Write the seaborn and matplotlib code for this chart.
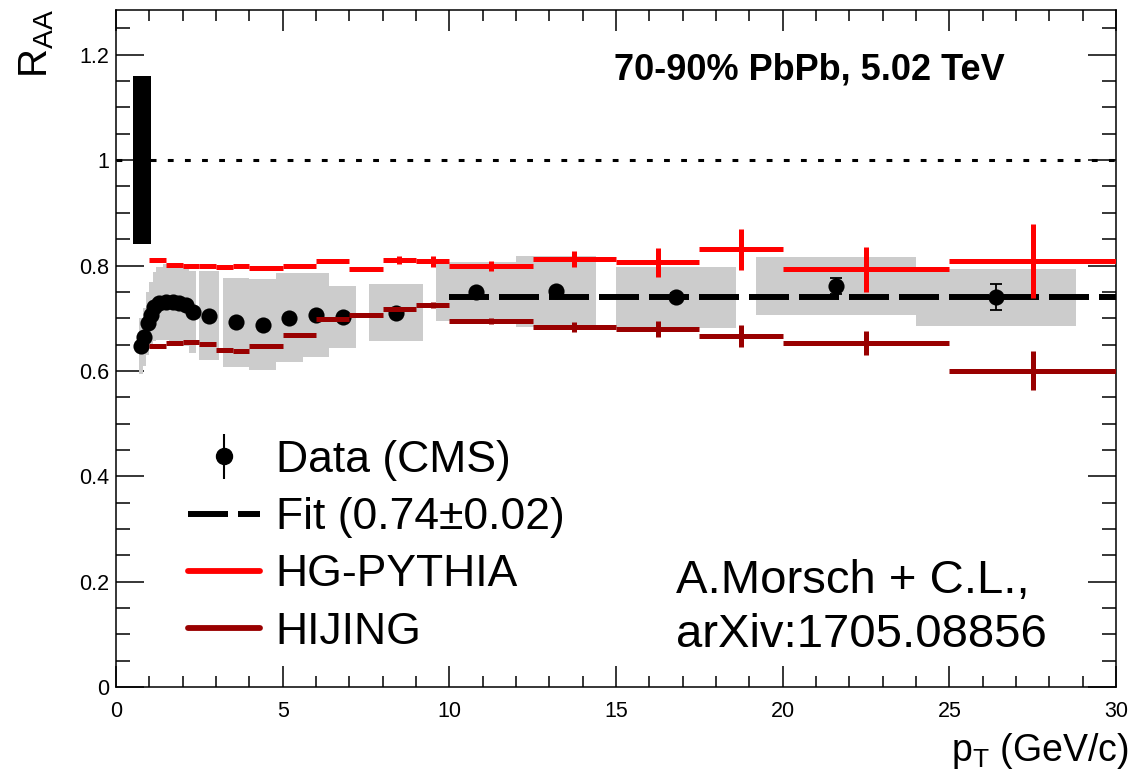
import numpy as np
import pandas as pd
import matplotlib
matplotlib.use("Agg")
import matplotlib.pyplot as plt
import seaborn as sns
from matplotlib.ticker import MultipleLocator, FuncFormatter
from matplotlib.lines import Line2D

# ---------------- data ----------------
# CMS charged-particle R_AA, 70-90% PbPb at 5.02 TeV
pt = [0.75, 0.85, 0.95, 1.05, 1.15, 1.3, 1.5, 1.7, 1.9, 2.1, 2.3,
      2.8, 3.6, 4.4, 5.2, 6.0, 6.8, 8.4, 10.8, 13.2, 16.8, 21.6, 26.4]
raa = [0.647, 0.665, 0.690, 0.706, 0.722, 0.728, 0.731, 0.730, 0.728, 0.725, 0.712,
       0.705, 0.692, 0.688, 0.701, 0.706, 0.703, 0.710, 0.750, 0.751, 0.740, 0.761, 0.740]
stat = [0.002, 0.002, 0.002, 0.002, 0.002, 0.002, 0.002, 0.002, 0.002, 0.002, 0.002,
        0.002, 0.002, 0.002, 0.003, 0.003, 0.004, 0.004, 0.005, 0.006, 0.008, 0.016, 0.025]
# systematic boxes: edges in pT and half height
sys_lo = [0.7, 0.8, 0.9, 1.0, 1.1, 1.2, 1.4, 1.6, 1.8, 2.0, 2.2,
          2.5, 3.2, 4.0, 4.8, 5.6, 6.4, 7.6, 9.6, 12.0, 15.0, 19.2, 24.0]
sys_hi = [0.8, 0.9, 1.0, 1.1, 1.2, 1.4, 1.6, 1.8, 2.0, 2.2, 2.4,
          3.1, 4.0, 4.8, 5.6, 6.4, 7.2, 9.2, 12.0, 14.4, 18.6, 24.0, 28.8]
sys_err = [0.053, 0.055, 0.060, 0.063, 0.066, 0.070, 0.072, 0.074, 0.076, 0.077, 0.078,
           0.085, 0.085, 0.086, 0.084, 0.079, 0.059, 0.054, 0.056, 0.067, 0.058, 0.055, 0.054]

# global normalisation uncertainty
norm_unc = 0.16

# constant fit
fit_value = 0.74
fit_range = [10.0, 30.0]

# model histograms (common binning)
model_edges = [1.0, 1.5, 2.0, 2.5, 3.0, 3.5, 4.0, 5.0, 6.0, 7.0, 8.0, 9.0, 10.0,
               12.5, 15.0, 17.5, 20.0, 25.0, 30.0]
pythia = [0.810, 0.801, 0.799, 0.799, 0.797, 0.800, 0.796, 0.800, 0.808, 0.793, 0.810, 0.808,
          0.799, 0.813, 0.806, 0.831, 0.793, 0.809]
pythia_err = [0.002, 0.002, 0.002, 0.002, 0.002, 0.002, 0.002, 0.003, 0.003, 0.004, 0.008, 0.011,
              0.010, 0.015, 0.027, 0.039, 0.043, 0.070]
hijing = [0.647, 0.652, 0.655, 0.651, 0.639, 0.637, 0.648, 0.669, 0.698, 0.707, 0.717, 0.725,
          0.695, 0.683, 0.679, 0.666, 0.653, 0.600]
hijing_err = [0.002, 0.002, 0.002, 0.002, 0.002, 0.002, 0.002, 0.002, 0.003, 0.003, 0.004, 0.005,
              0.006, 0.010, 0.015, 0.021, 0.023, 0.037]

# ---------------- style ----------------
sns.set_theme(style="ticks")
plt.rcParams['font.family'] = ['Liberation Sans', 'DejaVu Sans']
plt.rcParams['mathtext.fontset'] = 'custom'
plt.rcParams['mathtext.rm'] = 'Liberation Sans'
plt.rcParams['mathtext.it'] = 'Liberation Sans:italic'
plt.rcParams['mathtext.bf'] = 'Liberation Sans:bold'
for key in ['text.color', 'axes.labelcolor', 'xtick.color', 'ytick.color',
            'axes.edgecolor']:
    plt.rcParams[key] = 'black'

W, H = 1134, 770
fig = plt.figure(figsize=(W / 100, H / 100), dpi=100)
fig.patch.set_facecolor('white')
ax = fig.add_axes([116 / W, 1 - 687 / H, 1000 / W, 677 / H])
ax.set_facecolor('white')

RED = '#ff0000'
DARKRED = '#990000'
GRAY = '#cccccc'

df = pd.DataFrame({'pt': pt, 'raa': raa, 'stat': stat,
                   'lo': sys_lo, 'hi': sys_hi, 'sys': sys_err})

# systematic boxes
ax.bar((df.lo + df.hi) / 2, 2 * df.sys, bottom=df.raa - df.sys,
       width=df.hi - df.lo, color=GRAY, linewidth=0, zorder=1)

# normalisation box at unity
ax.bar([0.775], [2 * norm_unc], bottom=[1 - norm_unc], width=0.55,
       color='black', linewidth=0, zorder=2)

# reference line at unity
ax.axhline(1.0, color='black', lw=2.2, linestyle=(0, (1.9, 3.7)), zorder=2)

# fit line
fit_df = pd.DataFrame({'pt': fit_range, 'raa': [fit_value, fit_value]})
fit_lw = 4.3
sns.lineplot(data=fit_df, x='pt', y='raa', ax=ax, color='black', lw=fit_lw,
             linestyle=(0, (28.8 / fit_lw, 7.2 / fit_lw)), zorder=3, legend=False)

# data points
ax.errorbar(df.pt, df.raa, yerr=df.stat, fmt='none', ecolor='black', elinewidth=1.3,
            capsize=4, capthick=1.3, zorder=4)
sns.scatterplot(data=df, x='pt', y='raa', ax=ax, color='black', s=135,
                edgecolor='black', linewidth=0, zorder=5, legend=False)

# model histograms
edges = np.array(model_edges)
centers = (edges[:-1] + edges[1:]) / 2
halfw = (edges[1:] - edges[:-1]) / 2
ax.errorbar(centers, pythia, xerr=halfw, yerr=pythia_err, fmt='none',
            ecolor=RED, elinewidth=3.6, capsize=0, zorder=6)
ax.errorbar(centers, hijing, xerr=halfw, yerr=hijing_err, fmt='none',
            ecolor=DARKRED, elinewidth=3.6, capsize=0, zorder=6)

# ---------------- axes ----------------
ax.set_xlim(0, 30)
ax.set_ylim(0, 1.285)
ax.set_xlabel('')
ax.set_ylabel('')
ax.xaxis.set_major_locator(MultipleLocator(5))
ax.xaxis.set_minor_locator(MultipleLocator(1))
ax.yaxis.set_major_locator(MultipleLocator(0.2))
ax.yaxis.set_minor_locator(MultipleLocator(0.05))
ax.yaxis.set_major_formatter(FuncFormatter(lambda v, p: f'{v:g}'))
ax.xaxis.set_major_formatter(FuncFormatter(lambda v, p: f'{v:g}'))
for sp in ax.spines.values():
    sp.set_linewidth(1.1)
    sp.set_color('black')
    sp.set_visible(True)
ax.tick_params(which='both', direction='in', top=True, right=True,
               color='black', width=1.1, labelsize=15.5, labelcolor='black')
ax.tick_params(axis='x', which='major', length=15, pad=10)
ax.tick_params(axis='x', which='minor', length=8)
ax.tick_params(axis='y', which='major', length=20, pad=5)
ax.tick_params(axis='y', which='minor', length=10)
ax.grid(False)

# axis titles
fig.text(37 / W, 1 - 9 / H, r'$\mathrm{R}_{\mathrm{AA}}$', rotation=90,
         ha='center', va='top', fontsize=29, color='black')
fig.text(1129 / W, 1 - 761 / H, r'$\mathrm{p}_{\mathrm{T}}$ (GeV/c)',
         ha='right', va='baseline', fontsize=27, color='black')

# annotations
fig.text(809 / W, 1 - 70 / H, '70-90% PbPb, 5.02 TeV',
         ha='center', va='center', fontsize=26, fontweight='bold', color='black')
fig.text(676 / W, 1 - 593 / H, 'A.Morsch + C.L.,',
         ha='left', va='baseline', fontsize=34, color='black')
fig.text(676 / W, 1 - 647 / H, 'arXiv:1705.08856',
         ha='left', va='baseline', fontsize=34, color='black')

# legend
h_data = ax.errorbar([np.nan], [np.nan], yerr=[0.05], fmt='o', color='black',
                     ms=11.5, elinewidth=1.5, capsize=0)
h_fit = Line2D([], [], color='black', lw=fit_lw,
               linestyle=(0, (28.8 / fit_lw, 7.2 / fit_lw)))
h_py = Line2D([], [], color=RED, lw=4.2)
h_hi = Line2D([], [], color=DARKRED, lw=4.2)
ax.legend([h_data, h_fit, h_py, h_hi],
          ['Data (CMS)', 'Fit (0.74\u00b10.02)', 'HG-PYTHIA', 'HIJING'],
          loc='upper left', bbox_to_anchor=(188 / W, 1 - 440 / H),
          bbox_transform=fig.transFigure, frameon=False, fontsize=32,
          handlelength=1.62, handletextpad=0.35, labelspacing=0.365,
          borderpad=0, borderaxespad=0)

fig.savefig('out.png', dpi=100)
